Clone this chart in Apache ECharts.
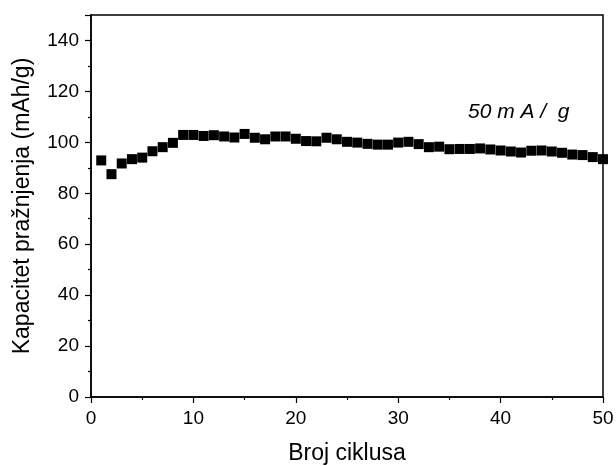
<!DOCTYPE html>
<html>
<head>
<meta charset="utf-8">
<script src="https://cdn.jsdelivr.net/npm/echarts@6/dist/echarts.min.js"></script>
<style>
  html, body { margin: 0; padding: 0; background: #fff; }
  #chart { width: 616px; height: 466px; }
</style>
</head>
<body>
<div id="chart"></div>
<script>
  // broj ciklusa i kapacitet praznjenja (mAh/g), procitano sa slike
  const cycles = [1, 2, 3, 4, 5, 6, 7, 8, 9, 10, 11, 12, 13, 14, 15, 16, 17, 18, 19, 20, 21, 22, 23, 24, 25,
    26, 27, 28, 29, 30, 31, 32, 33, 34, 35, 36, 37, 38, 39, 40, 41, 42, 43, 44, 45, 46, 47, 48, 49, 50];
  const capacity = [92.9, 87.5, 91.7, 93.4, 94.0, 96.5, 98.1, 99.8, 102.9, 102.9, 102.5, 102.8, 102.3, 101.9, 103.3,
    101.8, 101.2, 102.3, 102.3, 101.4, 100.5, 100.4, 101.8, 101.2, 100.2,
    99.9, 99.4, 99.1, 99.1, 99.9, 100.2, 99.3, 98.1, 98.3, 97.3, 97.4, 97.4, 97.6, 97.2, 96.8,
    96.4, 96.0, 96.7, 96.8, 96.4, 95.9, 95.2, 95.0, 94.2, 93.4];
  const label = "50 m A /  g";

  const FONT = "Liberation Sans";
  const chart = echarts.init(document.getElementById("chart"));

  const axisCommon = {
    axisLine: { show: true, lineStyle: { color: "#000", width: 1.5 } },
    axisTick: { show: true, inside: false, length: 6, lineStyle: { color: "#000", width: 1.2 } },
    minorTick: { show: true, splitNumber: 2, length: 3, lineStyle: { color: "#000", width: 1.2 } },
    splitLine: { show: false },
    axisLabel: { color: "#000", fontFamily: FONT, fontSize: 19, margin: 12 },
    nameTextStyle: { color: "#000", fontFamily: FONT, fontSize: 23 },
  };

  chart.setOption({
    backgroundColor: "#fff",
    animation: false,
    grid: {
      left: 91, right: 13, top: 15, bottom: 69, outerBoundsMode: "none",
      show: true, borderColor: "#000", borderWidth: 1.5,
    },
    xAxis: Object.assign({}, axisCommon, {
      type: "value", min: 0, max: 50, interval: 10,
      name: "Broj ciklusa", nameLocation: "middle", nameGap: 45,
    }),
    yAxis: Object.assign({}, axisCommon, {
      type: "value", min: 0, max: 150, interval: 20,
      name: "Kapacitet pražnjenja (mAh/g)", nameLocation: "middle", nameGap: 57,
      axisLabel: Object.assign({}, axisCommon.axisLabel, { showMaxLabel: false }),
    }),
    series: [{
      type: "scatter",
      data: cycles.map((c, i) => [c, capacity[i]]),
      symbol: "rect",
      symbolSize: 10,
      itemStyle: { color: "#000", opacity: 1 },
    }],
    graphic: [{
      type: "text", left: 468, top: 102,
      style: { text: label, fill: "#000", font: "italic 21px " + FONT },
    }],
  });
</script>
</body>
</html>
